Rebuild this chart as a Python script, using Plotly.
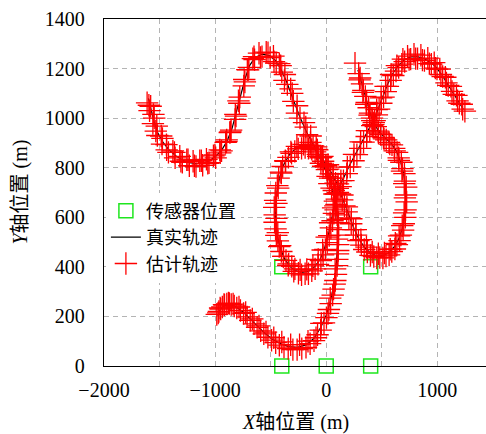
import plotly.graph_objects as go

# Sensor positions
sensor_x = [-400, 0, 400, -400, 400]
sensor_y = [0, 0, 0, 400, 400]

# True trajectory, target 1
t1_true_x = [-1600, -1578, -1550, -1515, -1470, -1415, -1355, -1290, -1230, -1170,
             -1110, -1050, -990, -935, -890, -848, -810, -770, -730, -690,
             -640, -575, -510, -455, -405, -355, -300, -240, -175, -120,
             -75, -30, 10, 45, 75, 95, 105, 105, 98, 85,
             65, 38, 0, -50, -110, -180, -260, -340, -420, -490,
             -560, -620, -680, -740, -800, -850, -890, -930, -960, -975]
t1_true_y = [1080, 1035, 985, 940, 903, 872, 848, 830, 820, 816,
             819, 828, 848, 875, 910, 958, 1020, 1090, 1160, 1212,
             1245, 1258, 1252, 1232, 1195, 1145, 1078, 1008, 942, 898,
             855, 815, 775, 728, 675, 620, 560, 500, 440, 380,
             320, 262, 205, 155, 112, 85, 75, 78, 92, 110,
             135, 160, 188, 215, 235, 246, 248, 240, 222, 200]

# True trajectory, target 2
t2_true_x = [285, 315, 345, 375, 405, 440, 485, 535, 585, 630,
             668, 695, 712, 715, 705, 685, 655, 615, 565, 510,
             455, 400, 345, 295, 250, 210, 170, 130, 90, 45,
             0, -50, -100, -160, -220, -280, -335, -385, -420, -445,
             -458, -455, -440, -415, -380, -335, -280, -220, -160, -105,
             -55, -15, 20, 50, 75, 100, 150, 210, 270, 330,
             385, 430, 470, 510, 550, 600, 650, 705, 760, 820,
             880, 940, 990, 1040, 1090, 1140, 1190, 1235]
t2_true_y = [1195, 1145, 1095, 1048, 1005, 970, 940, 918, 898, 868,
             826, 780, 725, 665, 605, 555, 515, 482, 458, 446,
             445, 455, 478, 512, 555, 602, 650, 698, 742, 780,
             815, 848, 872, 886, 886, 875, 850, 810, 760, 700,
             640, 580, 525, 478, 437, 405, 385, 378, 382, 400,
             430, 475, 530, 590, 650, 705, 755, 810, 860, 910,
             955, 995, 1040, 1090, 1135, 1180, 1212, 1236, 1247, 1248,
             1240, 1225, 1205, 1175, 1140, 1105, 1068, 1035]

# Estimated trajectory, target 1
t1_est_x = [-1612, -1580, -1590, -1555, -1560, -1525, -1520, -1485, -1478, -1438,
            -1420, -1380, -1360, -1318, -1295, -1255, -1232, -1198, -1172, -1138,
            -1112, -1078, -1055, -1015, -995, -958, -942, -905, -898, -862,
            -856, -820, -818, -782, -778, -742, -738, -703, -696, -660,
            -645, -605, -578, -540, -505, -475, -450, -422, -400, -372,
            -350, -320, -296, -262, -236, -200, -172, -140, -118, -90,
            -72, -45, -28, -2, 12, 35, 48, 68, 78, 92,
            98, 106, 108, 112, 108, 108, 100, 98, 88, 82,
            66, 58, 40, 24, 2, -20, -50, -78, -110, -145,
            -182, -220, -262, -300, -342, -380, -422, -455, -492, -525,
            -562, -590, -622, -650, -684, -712, -744, -772, -805, -828,
            -855, -872, -895, -915, -935, -950, -966, -985,
            -1596, -1548, -1534, -1474, -1436, -1366, -1308, -1244, -1186, -1124,
            -1066, -1002, -954, -896, -868, -812, -790, -732, -710, -650,
            -592, -524, -470, -410, -376, -306, -264, -184, -142, -80,
            -48, 6, 28, 74, 84, 110, 98, 106, 80, 76,
            36, 16, -44, -92, -164, -240, -320, -400, -472, -542,
            -605, -665, -725, -785, -838, -880, -920, -955, -972]
t1_est_y = [1062, 1048, 1030, 1015, 978, 968, 930, 928, 895, 893,
            862, 868, 840, 846, 822, 832, 808, 826, 805, 828,
            810, 834, 820, 848, 840, 872, 868, 902, 905, 944,
            952, 995, 1015, 1060, 1085, 1130, 1156, 1195, 1205, 1240,
            1236, 1262, 1248, 1266, 1244, 1250, 1222, 1220, 1186, 1176,
            1136, 1118, 1068, 1050, 1000, 982, 933, 928, 888, 884,
            846, 842, 806, 802, 765, 758, 718, 708, 665, 652,
            610, 592, 550, 528, 490, 466, 430, 405, 370, 345,
            310, 286, 252, 228, 195, 174, 145, 126, 102, 90,
            75, 70, 66, 66, 70, 76, 84, 94, 104, 116,
            130, 142, 156, 170, 184, 198, 212, 224, 234, 242,
            248, 252, 250, 246, 238, 230, 220, 208,
            1052, 1000, 948, 918, 872, 862, 826, 832, 808, 828,
            818, 852, 860, 912, 942, 1008, 1070, 1146, 1196, 1248,
            1245, 1264, 1228, 1212, 1152, 1100, 1020, 964, 902, 872,
            818, 792, 736, 694, 630, 578, 512, 452, 392, 330,
            274, 212, 172, 114, 100, 86, 86, 97, 114, 137,
            162, 190, 216, 238, 250, 254, 248, 234, 214]

# Estimated trajectory, target 2
t2_est_x = [259, 292, 305, 322, 334, 352, 364, 382, 394, 412,
            428, 446, 468, 490, 515, 540, 565, 592, 612, 638,
            652, 676, 686, 704, 708, 720, 718, 724, 714, 712,
            698, 692, 672, 660, 636, 618, 590, 566, 538, 510,
            482, 455, 428, 398, 370, 342, 316, 290, 268, 244,
            225, 204, 184, 164, 144, 124, 104, 84, 62, 40,
            18, -4, -28, -52, -76, -100, -130, -160, -190, -222,
            -252, -283, -312, -340, -365, -392, -408, -428, -440, -454,
            -460, -468, -464, -465, -456, -449, -435, -423, -404, -386,
            -362, -338, -310, -282, -250, -222, -190, -160, -130, -100,
            -74, -48, -28, -8, 9, 27, 42, 57, 69, 82,
            95, 106, 130, 155, 185, 216, 246, 276, 306, 336,
            364, 392, 414, 436, 456, 476, 496, 516, 536, 555,
            580, 604, 628, 652, 680, 706, 732, 760, 790, 822,
            852, 884, 914, 946, 972, 997, 1022, 1048, 1072, 1098,
            1122, 1148, 1172, 1198, 1220, 1248,
            300, 330, 360, 390, 424, 470, 520, 572, 616, 654,
            682, 702, 708, 701, 684, 656, 622, 576, 524, 469,
            414, 362, 312, 266, 226, 186, 146, 106, 62, 16,
            -34, -86, -145, -205, -264, -318, -368, -404, -432, -448,
            -448, -436, -414, -384, -342, -292, -235, -175, -120, -72,
            -32, 4, 35, 62, 88, 132, 190, 250, 310, 366,
            414, 454, 494, 534, 584, 636, 690, 746, 805, 866,
            928, 982, 1032, 1082, 1132, 1182, 1228]
t2_est_y = [1222, 1180, 1162, 1138, 1112, 1088, 1064, 1042, 1020, 1000,
            982, 966, 948, 934, 922, 912, 902, 892, 878, 862,
            840, 822, 796, 776, 746, 722, 690, 662, 630, 600,
            574, 548, 528, 506, 490, 472, 462, 448, 444, 436,
            438, 436, 442, 446, 460, 470, 488, 506, 528, 550,
            574, 598, 622, 646, 670, 694, 717, 738, 758, 775,
            794, 808, 826, 840, 854, 864, 874, 878, 881, 878,
            876, 866, 858, 842, 826, 805, 782, 758, 728, 698,
            668, 640, 610, 580, 553, 527, 505, 482, 462, 442,
            426, 412, 402, 392, 374, 368, 372, 372, 384, 392,
            410, 425, 448, 470, 498, 526, 557, 586, 616, 646,
            673, 700, 724, 748, 776, 803, 828, 853, 878, 903,
            926, 950, 970, 990, 1013, 1036, 1060, 1085, 1107, 1128,
            1152, 1172, 1190, 1204, 1218, 1228, 1250, 1238, 1258, 1240,
            1254, 1232, 1242, 1218, 1224, 1198, 1198, 1168, 1165, 1132,
            1128, 1096, 1092, 1060, 1056, 1028,
            1154, 1104, 1056, 1012, 974, 940, 916, 895, 868, 830,
            786, 736, 678, 618, 566, 525, 495, 471, 456, 453,
            460, 480, 510, 550, 594, 642, 690, 735, 775, 812,
            846, 874, 890, 894, 886, 864, 828, 778, 718, 656,
            596, 538, 486, 442, 406, 382, 388, 390, 404, 430,
            468, 520, 578, 638, 694, 748, 802, 854, 904, 950,
            990, 1034, 1082, 1128, 1176, 1212, 1238, 1236, 1240, 1234,
            1220, 1202, 1176, 1142, 1108, 1070, 1036]

# Axis ticks
x_tickvals = [-2000, -1500, -1000, -500, 0, 500, 1000, 1500]
x_ticktext = ["\u22122000", "", "\u22121000", "", "0", "", "1000", ""]
y_tickvals = [0, 200, 400, 600, 800, 1000, 1200, 1400]

true_x = t1_true_x + [None] + t2_true_x
true_y = t1_true_y + [None] + t2_true_y
est_x = t1_est_x + t2_est_x
est_y = t1_est_y + t2_est_y

FONT = "Liberation Serif, Noto Sans CJK SC, serif"

fig = go.Figure()
fig.add_trace(go.Scatter(
    x=sensor_x, y=sensor_y, mode="markers", name="传感器位置",
    marker=dict(symbol="square-open", size=14, color="#1ee61e",
                line=dict(width=1.5, color="#1ee61e")),
    cliponaxis=False))
fig.add_trace(go.Scatter(
    x=true_x, y=true_y, mode="lines", name="真实轨迹",
    line=dict(color="black", width=1.2)))
fig.add_trace(go.Scatter(
    x=est_x, y=est_y, mode="markers", name="估计轨迹",
    marker=dict(symbol="cross-thin", size=16, color="red",
                line=dict(width=1.3, color="red"))))

grid = dict(showgrid=True, gridcolor="#b4b4b4", gridwidth=1, griddash="5px,4px")

fig.update_layout(
    width=486, height=434,
    margin=dict(l=104, r=0, t=19, b=68, autoexpand=False),
    paper_bgcolor="white", plot_bgcolor="white",
    font=dict(family=FONT, size=20, color="black"),
    showlegend=True,
    legend=dict(x=0.005, y=0.50, xanchor="left", yanchor="top",
                bgcolor="white", borderwidth=0,
                font=dict(family=FONT, size=18),
                tracegroupgap=0, itemsizing="trace"),
    xaxis=dict(range=[-2000, 1438], tickvals=x_tickvals, ticktext=x_ticktext,
               showline=True, linecolor="black", linewidth=1.3, mirror=True,
               zeroline=False, ticks="", ticklabelstandoff=6, automargin=False,
               tickfont=dict(family=FONT, size=20), **grid),
    yaxis=dict(range=[0, 1400], tickvals=y_tickvals,
               showline=True, linecolor="black", linewidth=1.3, mirror=False,
               zeroline=False, ticks="", ticklabelstandoff=14, automargin=False,
               tickfont=dict(family=FONT, size=20), **grid),
    annotations=[
        dict(text="<i>X</i>轴位置 (m)", xref="paper", yref="paper",
             x=0.5, y=0, yshift=-56, xanchor="center", yanchor="middle",
             showarrow=False, font=dict(family=FONT, size=20)),
        dict(text="<i>Y</i>轴位置 (m)", xref="paper", yref="paper",
             x=0, y=0.5, xshift=-84, xanchor="center", yanchor="middle",
             textangle=-90, showarrow=False, font=dict(family=FONT, size=20)),
    ],
)

fig.write_html("out.html", config={"displayModeBar": False},
               post_script="document.body.style.margin='0';document.body.style.padding='0';")
